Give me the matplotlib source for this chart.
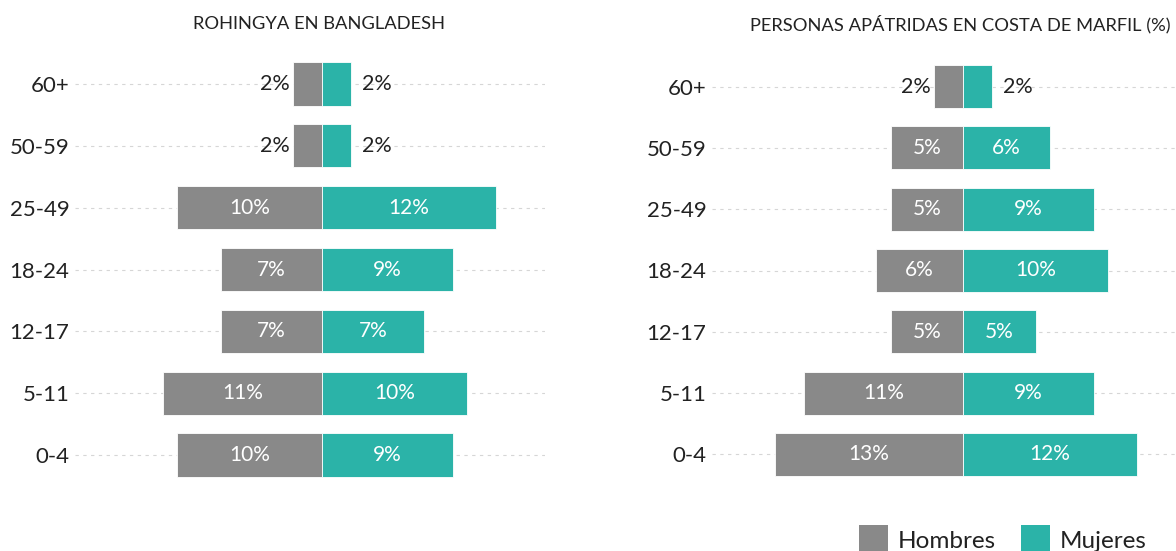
import matplotlib
matplotlib.use("Agg")
import matplotlib.pyplot as plt
import matplotlib.transforms as mtransforms
from matplotlib.patches import Rectangle

plt.rcParams['font.family'] = ['Lato', 'DejaVu Sans']

# Age groups, bottom to top
ages = ['0-4', '5-11', '12-17', '18-24', '25-49', '50-59', '60+']

# Share of population (%) by sex
rohingya_men = [10, 11, 7, 7, 10, 2, 2]
rohingya_women = [9, 10, 7, 9, 12, 2, 2]
cdm_men = [13, 11, 5, 6, 5, 5, 2]
cdm_women = [12, 9, 5, 10, 9, 6, 2]

titles = ['ROHINGYA EN BANGLADESH', 'PERSONAS APÁTRIDAS EN COSTA DE MARFIL (%)']
legend_labels = ['Hombres', 'Mujeres']

GREY = '#898989'
TEAL = '#2bb3a8'
DARK = '#222222'

W, H = 1176, 551
fig = plt.figure(figsize=(W / 100, H / 100), dpi=100)

def px_box(left, right, top, bottom):
    return [left / W, 1 - bottom / H, (right - left) / W, (bottom - top) / H]

ax1 = fig.add_axes(px_box(75, 545, 53, 486))
ax2 = fig.add_axes(px_box(712, 1176, 56, 485))

PX_PER_PCT = 14.5

def pyramid(ax, men, women, title, left_px, right_px, center_px):
    y = list(range(len(ages)))
    ax.set_xlim(-(center_px - left_px) / PX_PER_PCT, (right_px - center_px) / PX_PER_PCT)
    ax.set_ylim(-0.5, len(ages) - 0.5)
    for yy in y:
        ax.axhline(yy, color='#d6d6d6', lw=0.8, ls=(0, (3, 4)), zorder=0)
    neg_men = [-v for v in men]
    ax.barh(y, neg_men, height=0.70, color=GREY, edgecolor='white', linewidth=0.6, zorder=2)
    ax.barh(y, women, height=0.70, color=TEAL, edgecolor='white', linewidth=0.6, zorder=2)
    for yy, m, w in zip(y, men, women):
        if m < 3:
            ax.annotate(f'{m}%', (-m, yy), xytext=(-3, 0), textcoords='offset pixels',
                        ha='right', va='center', fontsize=15.5, color=DARK)
        else:
            ax.text(-m / 2, yy, f'{m}%', ha='center', va='center', fontsize=15,
                    color='white')
        if w < 3:
            ax.annotate(f'{w}%', (w, yy), xytext=(11, 0), textcoords='offset pixels',
                        ha='left', va='center', fontsize=15.5, color=DARK)
        else:
            ax.text(w / 2, yy, f'{w}%', ha='center', va='center', fontsize=15,
                    color='white')
    ax.set_yticks(y)
    ax.set_yticklabels(ages, fontsize=16, color=DARK)
    ax.tick_params(axis='y', length=0, pad=4)
    ax.set_xticks([])
    for s in ax.spines.values():
        s.set_visible(False)
    tr = mtransforms.blended_transform_factory(ax.transData, fig.transFigure)
    ax.text(-0.2, 1 - 24 / H, title, transform=tr, ha='center', va='center',
            fontsize=13.2, color=DARK)

pyramid(ax1, rohingya_men, rohingya_women, titles[0], 75, 545, 322)
pyramid(ax2, cdm_men, cdm_women, titles[1], 712, 1176, 963)

# Legend drawn along the bottom edge
for x0, color, label in [(859, GREY, legend_labels[0]), (1021, TEAL, legend_labels[1])]:
    fig.add_artist(Rectangle((x0 / W, 0), 29 / W, 26 / H, transform=fig.transFigure,
                             facecolor=color, edgecolor='none'))
    fig.text((x0 + 39) / W, 1 - 541 / H, label, ha='left', va='center',
             fontsize=17.5, color=DARK)

fig.savefig('out.png', dpi=100, facecolor='white')
